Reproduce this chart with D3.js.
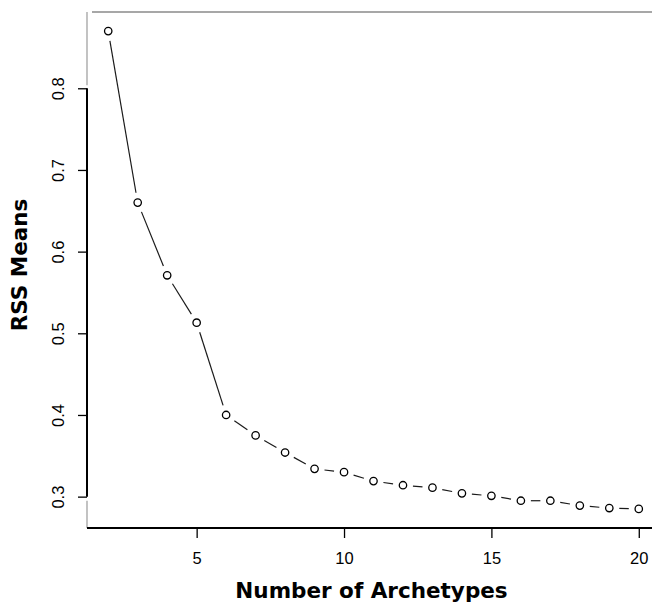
<!DOCTYPE html>
<html>
<head>
<meta charset="utf-8">
<script src="https://cdn.jsdelivr.net/npm/d3@7"></script>
<style>
  html, body { margin: 0; padding: 0; background: #fff; }
  svg { display: block; }
</style>
</head>
<body>
<div id="chart"></div>
<script>
// Mean residual sum of squares for each number of archetypes
const archetypes = [2, 3, 4, 5, 6, 7, 8, 9, 10, 11, 12, 13, 14, 15, 16, 17, 18, 19, 20];
const rssMeans = [0.870, 0.660, 0.571, 0.513, 0.400, 0.375, 0.354, 0.334, 0.330, 0.319,
                  0.314, 0.311, 0.304, 0.301, 0.295, 0.295, 0.289, 0.286, 0.285];
const xTicks = [5, 10, 15, 20];
const yTicks = [0.3, 0.4, 0.5, 0.6, 0.7, 0.8];
const xTitle = "Number of Archetypes";
const yTitle = "RSS Means";

const W = 652, H = 605;
const plotL = 87, plotR = 660, plotT = 12, plotB = 528;

// 4% padding on each side of the data range
function padded(ext) {
  const d = (ext[1] - ext[0]) * 0.04;
  return [ext[0] - d, ext[1] + d];
}

const x = d3.scaleLinear().domain(padded(d3.extent(archetypes))).range([plotL, plotR]);
const y = d3.scaleLinear().domain(padded(d3.extent(rssMeans))).range([plotB, plotT]);

const svg = d3.select("#chart").append("svg")
  .attr("width", W).attr("height", H);

// Frame: grey top and left edges, solid bottom edge
svg.append("line").attr("x1", plotL + 5).attr("x2", W).attr("y1", plotT).attr("y2", plotT)
  .attr("stroke", "#8a8a8a").attr("stroke-width", 1.6);
svg.append("line").attr("x1", plotL).attr("x2", plotL).attr("y1", plotT).attr("y2", y(0.8) - 3)
  .attr("stroke", "#9a9a9a").attr("stroke-width", 1.2);
svg.append("line").attr("x1", plotL).attr("x2", plotL).attr("y1", y(0.3) + 4).attr("y2", plotB)
  .attr("stroke", "#9a9a9a").attr("stroke-width", 1.2);

// X axis
const xAxis = d3.axisBottom(x).tickValues(xTicks).tickSize(10).tickSizeOuter(0).tickPadding(14)
  .tickFormat(d3.format("d"));
const gx = svg.append("g").attr("transform", `translate(0,${plotB})`).call(xAxis);
gx.select(".domain").remove();
gx.append("line").attr("x1", plotL).attr("x2", W).attr("y1", 0).attr("y2", 0)
  .attr("stroke", "#000").attr("stroke-width", 2);
gx.selectAll(".tick line").attr("stroke", "#000").attr("stroke-width", 1.3);
gx.selectAll(".tick text")
  .attr("font-family", "'Liberation Sans', Arial, sans-serif")
  .attr("font-size", 16.5).attr("fill", "#000");

// Y axis: line spans the first to last tick
const yAxis = d3.axisLeft(y).tickValues(yTicks).tickSize(9).tickSizeOuter(0)
  .tickFormat(d3.format(".1f"));
const gy = svg.append("g").attr("transform", `translate(${plotL},0)`).call(yAxis);
gy.select(".domain").remove();
gy.append("line").attr("x1", 0).attr("x2", 0)
  .attr("y1", y(yTicks[0])).attr("y2", y(yTicks[yTicks.length - 1]))
  .attr("stroke", "#000").attr("stroke-width", 2);
gy.selectAll(".tick line").attr("stroke", "#000").attr("stroke-width", 1.3);
gy.selectAll(".tick text")
  .attr("font-family", "'Liberation Sans', Arial, sans-serif")
  .attr("font-size", 16.5).attr("fill", "#000")
  .attr("x", null).attr("dy", null)
  .attr("text-anchor", "middle")
  .attr("transform", "translate(-23,0) rotate(-90)");

// Connecting segments with gaps around each point
const pts = archetypes.map((a, i) => [x(a), y(rssMeans[i])]);
const gap = 10;
const segs = [];
for (let i = 0; i < pts.length - 1; i++) {
  const [x0, y0] = pts[i], [x1, y1] = pts[i + 1];
  const len = Math.hypot(x1 - x0, y1 - y0);
  if (len <= 2 * gap) continue;
  const ux = (x1 - x0) / len, uy = (y1 - y0) / len;
  segs.push([x0 + ux * gap, y0 + uy * gap, x1 - ux * gap, y1 - uy * gap]);
}
svg.append("g").selectAll("line").data(segs).join("line")
  .attr("x1", d => d[0]).attr("y1", d => d[1])
  .attr("x2", d => d[2]).attr("y2", d => d[3])
  .attr("stroke", "#1a1a1a").attr("stroke-width", 1.2);

// Open circle markers
svg.append("g").selectAll("circle").data(archetypes).join("circle")
  .attr("cx", d => x(d))
  .attr("cy", (d, i) => y(rssMeans[i]))
  .attr("r", 3.7)
  .attr("fill", "#fff").attr("stroke", "#000").attr("stroke-width", 1.3);

// Axis titles
svg.append("text")
  .attr("x", 371.5).attr("y", 598)
  .attr("text-anchor", "middle")
  .attr("font-family", "'DejaVu Sans', Verdana, sans-serif")
  .attr("font-weight", "bold").attr("font-size", 21.5)
  .text(xTitle);

svg.append("text")
  .attr("transform", "translate(27,265) rotate(-90)")
  .attr("text-anchor", "middle")
  .attr("font-family", "'DejaVu Sans', Verdana, sans-serif")
  .attr("font-weight", "bold").attr("font-size", 21.5)
  .text(yTitle);
</script>
</body>
</html>
